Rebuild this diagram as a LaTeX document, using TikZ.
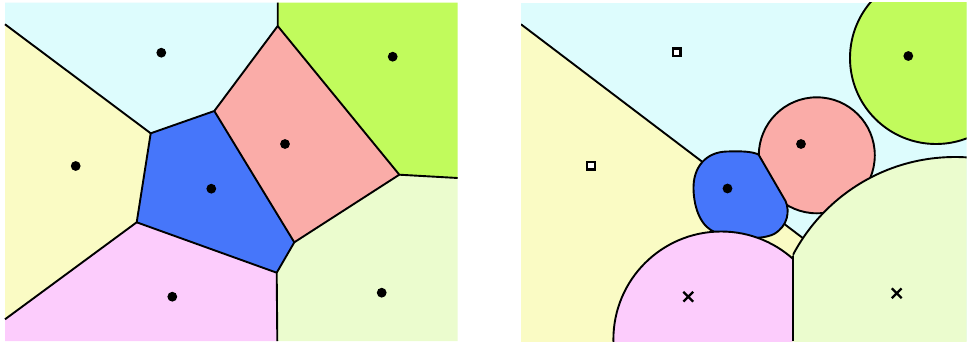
\documentclass[tikz,border=0pt]{standalone}
\usetikzlibrary{shapes.misc}
\definecolor{ccyan}{RGB}{221,252,253}
\definecolor{cyellow}{RGB}{250,251,196}
\definecolor{cblue}{RGB}{70,118,250}
\definecolor{csalmon}{RGB}{250,172,168}
\definecolor{cgreen}{RGB}{193,251,92}
\definecolor{clgreen}{RGB}{235,252,206}
\definecolor{cmagenta}{RGB}{252,204,252}
\begin{document}
\begin{tikzpicture}[x=1pt,y=-1pt,
  edge/.style={line width=1.9pt, line join=round},
  region/.style={draw=black, line width=1.9pt, line join=round},
  dotsite/.style={circle, fill=black, inner sep=0pt, minimum size=9.8pt},
  sqsite/.style={rectangle, draw=black, fill=white, line width=2.3pt, inner sep=0pt, minimum size=7.8pt},
  xsite/.style={cross out, draw=black, line width=2.3pt, inner sep=0pt, minimum size=7.5pt}]
\useasboundingbox (0,0) rectangle (967,341);
\fill[white] (0,0) rectangle (967,341);
% ---------- left panel ----------
\coordinate (L1) at (5,2.7);
\coordinate (L2) at (457.7,2.7);
\coordinate (L3) at (457.7,341);
\coordinate (L4) at (5,341);
\coordinate (T) at (277.7,2.7);
\coordinate (A) at (277.7,26);
\coordinate (B) at (150.7,133.3);
\coordinate (C) at (214.3,111);
\coordinate (D) at (399.3,174.7);
\coordinate (Dr) at (457.7,178);
\coordinate (E) at (294.3,242.3);
\coordinate (F) at (276.7,272.7);
\coordinate (Fb) at (277.3,341);
\coordinate (G) at (136.7,222.3);
\coordinate (Gl) at (5,319.3);
\coordinate (Bl) at (5,24.3);
\fill[ccyan] (L1) -- (T) -- (A) -- (C) -- (B) -- (Bl) -- cycle;
\fill[cgreen] (T) -- (L2) -- (Dr) -- (D) -- (A) -- cycle;
\fill[csalmon] (A) -- (D) -- (E) -- (C) -- cycle;
\fill[cblue] (B) -- (C) -- (E) -- (F) -- (G) -- cycle;
\fill[cyellow] (Bl) -- (B) -- (G) -- (Gl) -- cycle;
\fill[cmagenta] (Gl) -- (G) -- (F) -- (Fb) -- (L4) -- cycle;
\fill[clgreen] (F) -- (E) -- (D) -- (Dr) -- (L3) -- (Fb) -- cycle;
\draw[edge] (Bl) -- (B) -- (C) -- (A) -- (T);
\draw[edge] (A) -- (D) -- (Dr);
\draw[edge] (D) -- (E) -- (F) -- (Fb);
\draw[edge] (C) -- (E);
\draw[edge] (B) -- (G) -- (F);
\draw[edge] (G) -- (Gl);
\node[dotsite] (lc) at (161.3,52.7) {};
\node[dotsite] (ly) at (75.7,166) {};
\node[dotsite] (lb) at (211.3,188.7) {};
\node[dotsite] (ls) at (285,144) {};
\node[dotsite] (lg) at (392.7,56.7) {};
\node[dotsite] (ll) at (381.7,292.7) {};
\node[dotsite] (lm) at (172.3,296.7) {};
% ---------- right panel ----------
\begin{scope}
\clip (521,2.7) rectangle (966.7,341);
\fill[ccyan] (521,2.7) rectangle (966.7,341);
\coordinate (Y0) at (521,24.3);
\coordinate (Y1) at (810,243.5);
\fill[cyellow] (Y0) -- (Y1) -- (1000,400) -- (521,400) -- cycle;
\draw[edge] (Y0) -- (Y1);
\filldraw[region, fill=cgreen] (936,58) circle (86);
\filldraw[region, fill=csalmon] (816.8,155.3) circle (58);
\filldraw[region, fill=cblue] (758.5,154.5) -- (785.5,201)
  .. controls (790,211) and (788,226) .. (774,234)
  .. controls (762,240) and (737,239) .. (716,232.5)
  .. controls (702,228) and (694,210) .. (693.5,189)
  .. controls (693,167) and (706,152) .. (727,151.5)
  .. controls (742,151) and (752,151.5) .. (758.5,154.5) -- cycle;
\begin{scope}
\clip (521,0) rectangle (792.7,341);
\filldraw[region, fill=cmagenta] (721.2,339.3) circle (107.8);
\end{scope}
\begin{scope}
\clip (792.7,0) rectangle (970,341);
\filldraw[region, fill=clgreen] (955,340) circle (183);
\end{scope}
\coordinate (V0) at (792.7,341);
\coordinate (V1) at (792.7,255.5);
\draw[edge] (V0) -- (V1);
\end{scope}
\node[sqsite] (rc) at (676.7,52.3) {};
\node[sqsite] (ry) at (591,165.7) {};
\node[dotsite] (rb) at (727.5,188.5) {};
\node[dotsite] (rs) at (801,144) {};
\node[dotsite] (rg) at (908.3,56) {};
\node[xsite] (rm) at (688.3,296.7) {};
\node[xsite] (rl) at (896.7,293.3) {};
\end{tikzpicture}
\end{document}
